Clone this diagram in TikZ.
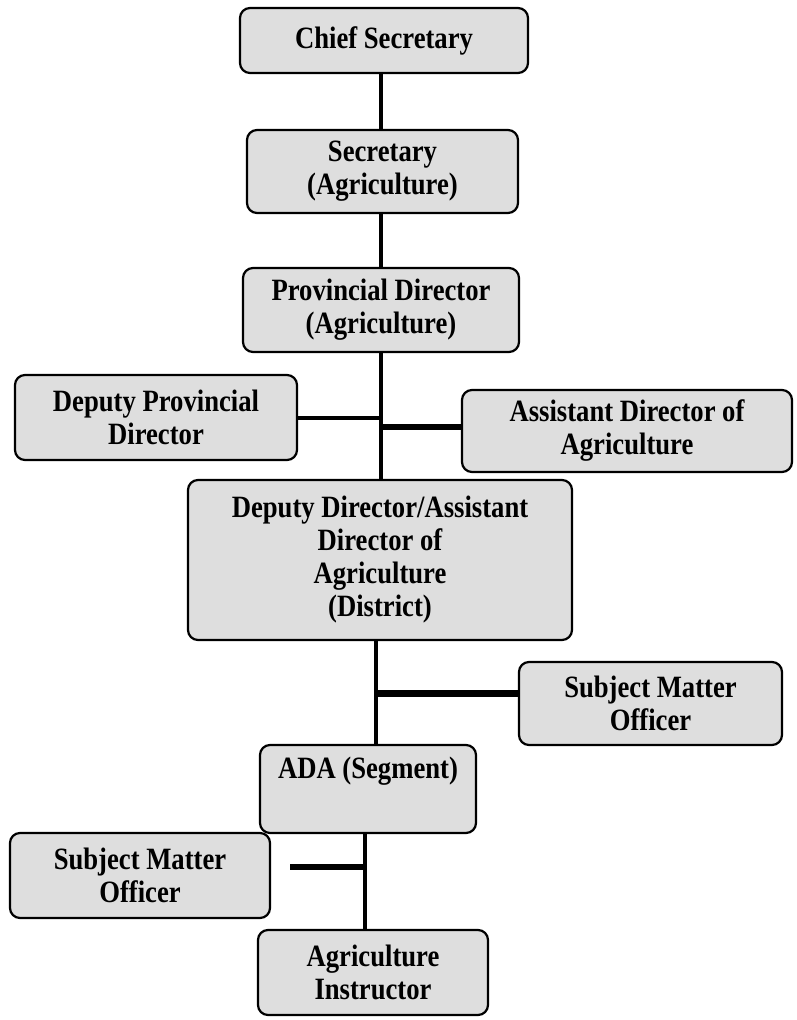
\documentclass[tikz,border=0pt]{standalone}
\usepackage{fontspec}
\setmainfont[FakeStretch=0.86]{Liberation Serif}
\begin{document}
\begin{tikzpicture}[x=1pt,y=-1pt,
    post/.style={draw=black, line width=2.2pt, fill=black!13, rounded corners=10pt,
      align=center, inner sep=0pt, font=\bfseries\fontsize{31}{33}\selectfont},
    link/.style={line width=4pt},
    thicklink/.style={line width=6.5pt}]
  \useasboundingbox (0,0) rectangle (796,1020);
  % caselle
  \node[post, minimum width=288, minimum height=65] (chief) at (384,40.5) {Chief Secretary};
  \node[post, minimum width=271, minimum height=83] (sec) at (382.5,171.5) {Secretary\\(Agriculture)};
  \node[post, minimum width=276, minimum height=84] (prov) at (381,310) {Provincial Director\\(Agriculture)};
  \node[post, minimum width=282, minimum height=85] (dpd) at (156,417.5) {Deputy Provincial\\Director};
  \node[post, minimum width=330, minimum height=82] (adag) at (627,431) {Assistant Director of\\Agriculture};
  \node[post, minimum width=384, minimum height=160] (ddir) at (380,560) {Deputy Director/Assistant\\Director of\\Agriculture\\(District)};
  \node[post, minimum width=263, minimum height=83] (smoa) at (650.5,703.5) {Subject Matter\\Officer};
  \node[post, minimum width=216, minimum height=88] (ada) at (368,789) {ADA (Segment)\\\strut};
  \node[post, minimum width=260, minimum height=85] (smob) at (140,875.5) {Subject Matter\\Officer};
  \node[post, minimum width=230, minimum height=85] (inst) at (373,972.5) {Agriculture\\Instructor};
  % linee
  \coordinate (spa) at (381,0);
  \coordinate (spb) at (376,0);
  \coordinate (spc) at (365,0);
  \coordinate (smobstub) at (290,867);
  \draw[link] (chief.south -| spa) -- (sec.north -| spa);
  \draw[link] (sec.south -| spa) -- (prov.north -| spa);
  \draw[link] (prov.south -| spa) -- (ddir.north -| spa);
  \draw[link] (dpd.east) -- (dpd.east -| spa);
  \draw[thicklink] ([yshift=4pt]adag.west) -- ([yshift=4pt]adag.west -| spa);
  \draw[link] (ddir.south -| spb) -- (ada.north -| spb);
  \draw[thicklink] ([yshift=10pt]smoa.west) -- ([yshift=10pt]smoa.west -| spb);
  \draw[link] (ada.south -| spc) -- (inst.north -| spc);
  \draw[thicklink] (smobstub) -- (smobstub -| spc);
\end{tikzpicture}
\end{document}
